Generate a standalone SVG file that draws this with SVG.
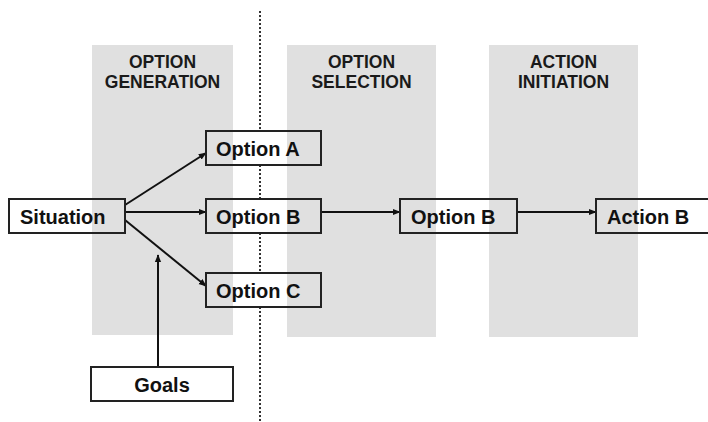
<svg xmlns="http://www.w3.org/2000/svg" width="708" height="422" viewBox="0 0 708 422">
<defs>
<style>
.band{fill:#e0e0e0}
.hdr{font-family:"Liberation Sans",Arial,sans-serif;font-weight:bold;font-size:17.5px;fill:#1a1a1a;text-anchor:middle}
.box{fill:none;stroke:#222;stroke-width:2}
.lbl{font-family:"Liberation Sans",Arial,sans-serif;font-weight:bold;font-size:20px;fill:#111}
.con{stroke:#111;stroke-width:2;fill:none;marker-end:url(#ah)}
.dot{stroke:#333;stroke-width:2;stroke-dasharray:2 2;fill:none}
</style>
<marker id="ah" viewBox="0 0 10 10" refX="9" refY="5" markerWidth="4" markerHeight="4" orient="auto" markerUnits="strokeWidth">
<path d="M0,1 L10,5 L0,9 z" fill="#111"/>
</marker>
</defs>
<rect width="708" height="422" fill="#fff"/>
<g id="bands">
<rect class="band" x="92" y="45" width="141" height="290"/>
<rect class="band" x="287" y="45" width="149" height="292"/>
<rect class="band" x="489" y="45" width="149" height="292"/>
<text class="hdr" x="162.5" y="67.5">OPTION</text>
<text class="hdr" x="162.5" y="88">GENERATION</text>
<text class="hdr" x="361.5" y="67.5">OPTION</text>
<text class="hdr" x="361.5" y="88">SELECTION</text>
<text class="hdr" x="563.5" y="67.5">ACTION</text>
<text class="hdr" x="563.5" y="88">INITIATION</text>
</g>
<g id="divider">
<path class="dot" d="M260,11 V131 M260,165 V199 M260,233 V273 M260,307 V422"/>
</g>
<g id="connectors">
<path class="con" d="M125,205 L206,153"/>
<path class="con" d="M125,212 L206,212"/>
<path class="con" d="M125,220 L206,286"/>
<path class="con" d="M158,367 L158,255"/>
<path class="con" d="M321,212 L400,212"/>
<path class="con" d="M517,212 L596,212"/>
</g>
<g id="situation">
<rect class="box" x="9" y="199" width="116" height="34"/>
<text class="lbl" x="20" y="223.5">Situation</text>
</g>
<g id="optionA">
<rect class="box" x="206" y="131" width="115" height="34"/>
<text class="lbl" x="216" y="155.5">Option A</text>
</g>
<g id="optionB1">
<rect class="box" x="206" y="199" width="115" height="34"/>
<text class="lbl" x="216" y="223.5">Option B</text>
</g>
<g id="optionC">
<rect class="box" x="206" y="273" width="115" height="34"/>
<text class="lbl" x="216" y="297.5">Option C</text>
</g>
<g id="optionB2">
<rect class="box" x="400" y="199" width="117" height="34"/>
<text class="lbl" x="411" y="223.5">Option B</text>
</g>
<g id="actionB">
<rect class="box" x="596" y="199" width="116" height="34"/>
<text class="lbl" x="607" y="223.5">Action B</text>
</g>
<g id="goals">
<rect class="box" x="91" y="367" width="142" height="34"/>
<text class="lbl" x="162" y="391.5" text-anchor="middle">Goals</text>
</g>
</svg>
